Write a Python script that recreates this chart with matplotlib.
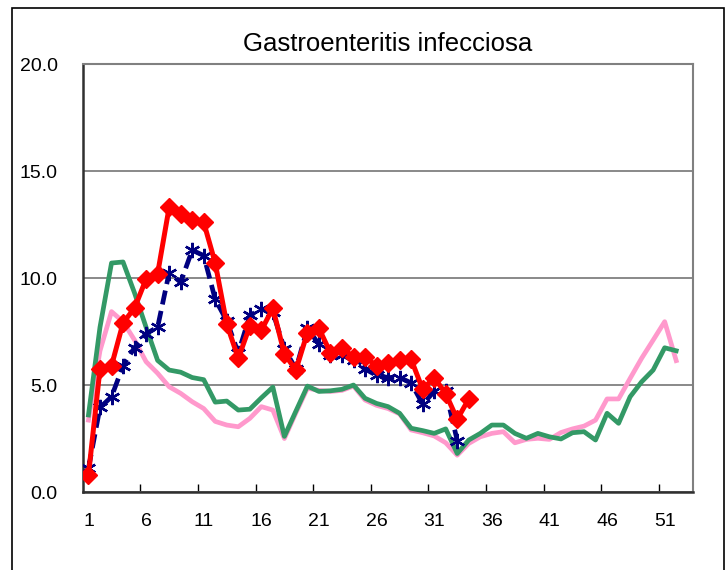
import matplotlib.pyplot as plt
from matplotlib.patches import Rectangle

title = 'Gastroenteritis infecciosa'

# weekly values
red = [0.8, 5.75, 5.9, 7.9, 8.6, 9.95, 10.2, 13.3, 13.0, 12.7, 12.6, 10.7, 7.85,
       6.25, 7.75, 7.55, 8.6, 6.45, 5.7, 7.45, 7.65, 6.5, 6.75, 6.3, 6.3, 5.9,
       6.05, 6.15, 6.2, 4.8, 5.35, 4.6, 3.4, 4.35]
blue = [1.1, 3.95, 4.45, 5.9, 6.75, 7.4, 7.7, 10.25, 9.8, 11.3, 11.05, 9.0, 8.0,
        6.5, 8.25, 8.55, 8.4, 6.7, 5.75, 7.65, 6.9, 6.4, 6.4, 6.15, 5.75, 5.45,
        5.35, 5.35, 5.1, 4.1, 4.7, 4.7, 2.4]
green = [3.6, 7.7, 10.7, 10.75, 9.3, 7.7, 6.15, 5.7, 5.6, 5.35, 5.25, 4.2, 4.25,
         3.83, 3.87, 4.4, 4.9, 2.6, 3.78, 4.95, 4.7, 4.73, 4.8, 5.0, 4.38, 4.14,
         3.99, 3.68, 2.98, 2.87, 2.74, 2.95, 1.8, 2.43, 2.74, 3.13, 3.13, 2.74,
         2.51, 2.74, 2.58, 2.48, 2.77, 2.82, 2.43, 3.68, 3.21, 4.45, 5.15, 5.7,
         6.74, 6.6]
pink = [3.36, 6.6, 8.43, 7.96, 7.1, 6.09, 5.55, 4.92, 4.61, 4.22, 3.9, 3.3, 3.13,
        3.05, 3.44, 3.99, 3.83, 2.5, 3.7, 4.85, 4.75, 4.7, 4.75, 4.95, 4.3, 4.05,
        3.9, 3.65, 2.9, 2.77, 2.62, 2.3, 1.72, 2.27, 2.58, 2.74, 2.82, 2.3, 2.46,
        2.51, 2.46, 2.78, 2.95, 3.08, 3.36, 4.35, 4.35, 5.31, 6.25, 7.1, 7.96, 6.14]
xlabels = [1, 6, 11, 16, 21, 26, 31, 36, 41, 46, 51]
ylabels = [0, 5, 10, 15, 20]

plt.rcParams['font.family'] = ['Liberation Sans', 'DejaVu Sans']

fig = plt.figure(figsize=(7.28, 5.70), dpi=100)
fig.patches.append(Rectangle((0.0165, -0.02), 0.978, 1.006, transform=fig.transFigure,
                             fill=False, edgecolor='black', linewidth=1.2))
ax = fig.add_axes([0.1136, 0.1368, 0.839, 0.7509])

ax.plot(range(1, len(pink) + 1), pink, color='#FF99CC', linewidth=3.4, zorder=2)
ax.plot(range(1, len(green) + 1), green, color='#339966', linewidth=3.4, zorder=3)
ax.plot(range(1, len(blue) + 1), blue, color='#000080', linewidth=3.4,
        linestyle=(0, (3, 1.4)), marker=(6, 2, 0), markersize=11,
        markeredgewidth=1.7, zorder=4)
ax.plot(range(1, len(red) + 1), red, color='#FF0000', linewidth=3.6, marker='D',
        markersize=9, zorder=5)

ax.set_xlim(0.5, 53.5)
ax.set_ylim(0, 20)
ax.set_xticks(xlabels)
ax.set_xticklabels([str(v) for v in xlabels], fontsize=14)
ax.set_xticks([b + 0.5 for b in range(5, 53, 5)], minor=True)
ax.tick_params(axis='x', which='major', length=0, pad=15)
ax.tick_params(axis='x', which='minor', direction='in', length=6, width=1, color='black')
ax.set_yticks(ylabels)
ax.set_yticklabels(['%.1f' % v for v in ylabels], fontsize=14)
ax.tick_params(axis='y', length=0, pad=18)
ax.grid(True, axis='y', color='#808080', linewidth=1.3)
ax.set_axisbelow(True)
for s in ['top', 'right']:
    ax.spines[s].set_color('#808080')
    ax.spines[s].set_linewidth(1.5)
for s in ['left', 'bottom']:
    ax.spines[s].set_color('#303030')
    ax.spines[s].set_linewidth(1.8)

fig.text(0.533, 0.922, title, fontsize=18.5, ha='center', va='center')

fig.savefig('out.png', dpi=100)
